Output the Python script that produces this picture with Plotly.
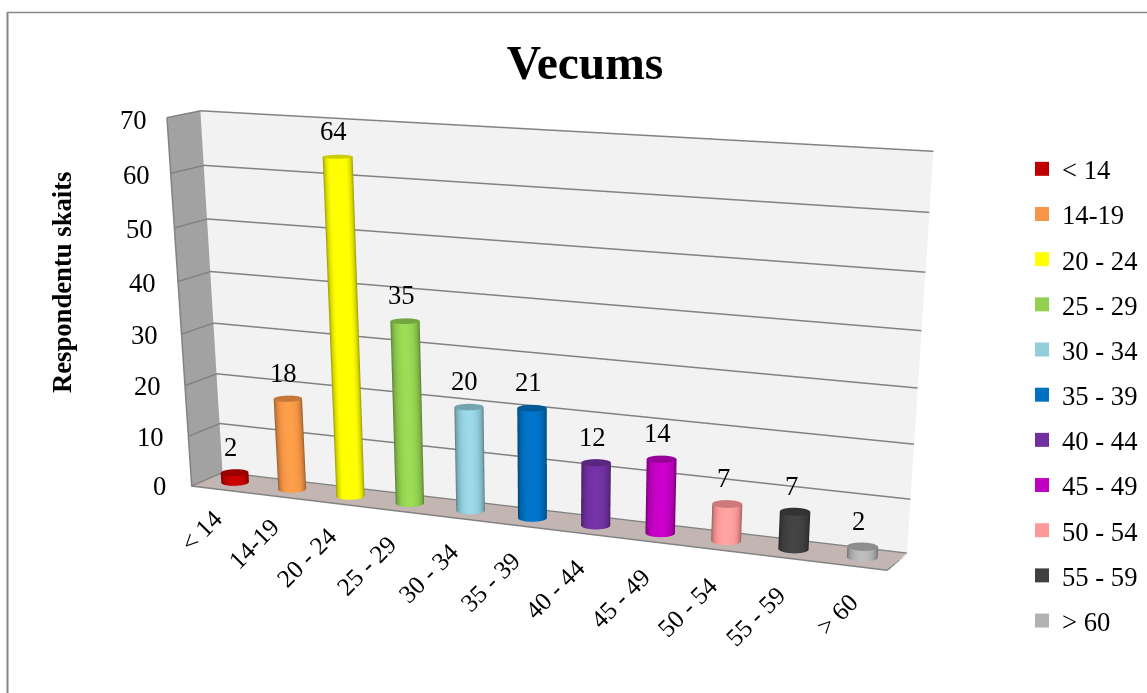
import numpy as np
import plotly.graph_objects as go

categories = ["< 14", "14-19", "20 - 24", "25 - 29", "30 - 34", "35 - 39", "40 - 44", "45 - 49", "50 - 54", "55 - 59", "> 60"]
values = [2, 18, 64, 35, 20, 21, 12, 14, 7, 7, 2]
colors = ["#c00000", "#f79646", "#ffff00", "#92d050", "#92cddc", "#0070c0", "#7030a0", "#c000c0", "#ff9999", "#404040", "#b2b2b2"]
z_ticks = [0, 10, 20, 30, 40, 50, 60, 70]

# Tall, wide canvas: the fixed 3D lens gets narrower as the scene grows, and only
# the top-left part of the page is shown.
FIG_W, FIG_H = 1300, 2015
SCENE_W = 1109
ASPECT = dict(x=2.0, y=0.1669, z=0.9630)
EYE = dict(x=2.6411, y=-5.7554, z=1.2291)
CENTER = dict(x=0.2817, y=-0.4865, z=-1.6488)

# Cylinder radius in category units; the depth radius keeps the section circular.
R_X = 0.21
R_Y = R_X * (ASPECT["x"] / 11) / ASPECT["y"]
ts = np.linspace(0, 2 * np.pi, 61)


def scale_hex(h, k):
    r, g, b = [int(h[i:i + 2], 16) for i in (1, 3, 5)]
    return "rgb(%d,%d,%d)" % (min(r * k, 255), min(g * k, 255), min(b * k, 255))


traces = []

# Grid lines on the two walls, then the floor edges and the front wall edge.
gx, gy, gz = [], [], []
for v in z_ticks:
    gx += [-.49, -.49, 10.5, None]
    gy += [0, .995, .995, None]
    gz += [v, v, v, None]
gx += [-.5, 10.5, 10.5, None, -.49, -.49]
gy += [0, 0, 1, None, 0, 0]
gz += [0, 0, 0, None, 0, 70]
traces.append(go.Scatter3d(x=gx, y=gy, z=gz, mode="lines", line=dict(color="#828282", width=3),
                           showlegend=False, hoverinfo="skip"))

# One shaded cylinder per age group: side wall plus top cap in a single surface.
for i, (v, col) in enumerate(zip(values, colors)):
    mx = (i + .5) / 11 * ASPECT["x"] - ASPECT["x"] / 2
    dirx, diry = EYE["x"] - mx, EYE["y"]
    n = np.hypot(dirx, diry)
    shade = np.clip(np.cos(ts) * dirx / n + np.sin(ts) * diry / n, 0, 1) * 0.88
    X = [i + R_X * np.cos(ts)] * 3 + [i + 0 * ts]
    Y = [.5 + R_Y * np.sin(ts)] * 3 + [.5 + 0 * ts]
    Z = [0 * ts, v + 0 * ts, v + 0 * ts, v + 0 * ts]
    C = [shade, shade, 1 + 0 * ts, 1 + 0 * ts]
    traces.append(go.Surface(
        x=np.array(X), y=np.array(Y), z=np.array(Z), surfacecolor=np.array(C),
        cmin=0, cmax=1, showscale=False,
        colorscale=[[0, scale_hex(col, .5)], [.25, scale_hex(col, .68)], [.5, scale_hex(col, .86)],
                    [.75, col], [.9, scale_hex(col, 1.08)], [.901, scale_hex(col, .8)], [1, scale_hex(col, .8)]],
        lighting=dict(ambient=1, diffuse=0, specular=0, roughness=1, fresnel=0), hoverinfo="skip"))

# Legend entries
for name, col in zip(categories, colors):
    traces.append(go.Scatter3d(x=[None], y=[None], z=[None], mode="markers", name=name, legendgroup=name,
                               showlegend=True, marker=dict(symbol="square", size=14, color=col, line=dict(width=0))))

font = dict(family="Liberation Serif", size=26.67, color="black")
cat_font = dict(font, size=25.3)
ann = []
for v in z_ticks:
    ann.append(dict(x=-.5, y=0, z=v, text=str(v), showarrow=False, xanchor="right", yanchor="middle",
                    xshift=-23 + 6 * v / 70, yshift=-2 * v / 70, font=font))
for i, c in enumerate(categories):
    ann.append(dict(x=i, y=0, z=0, text=c, showarrow=False, xanchor="right", yanchor="top", textangle=-45,
                    xshift=8 + .3 * i + (7 - len(c)), yshift=-13.5 - .7 * i + (7 - len(c)) * .5, font=cat_font))
for i, v in enumerate(values):
    ann.append(dict(x=i, y=.5, z=v, text=str(v), showarrow=False, xanchor="center", yanchor="bottom",
                    xshift=-4, yshift=9, font=font))

fig = go.Figure(traces)
hidden = dict(showticklabels=False, ticks="", title="", showspikes=False, zeroline=False, showgrid=False,
              showline=False, showbackground=True)
fig.update_layout(
    width=FIG_W, height=FIG_H, margin=dict(l=0, r=0, t=0, b=0), paper_bgcolor="white",
    title=dict(text="<b>Vecums</b>", x=585 / FIG_W, xanchor="center", y=1 - 62 / FIG_H, yanchor="middle",
               font=dict(family="Liberation Serif", size=47.5, color="black")),
    scene=dict(domain=dict(x=[0, SCENE_W / FIG_W], y=[0, 1]), aspectmode="manual", aspectratio=ASPECT,
               camera=dict(eye=EYE, center=CENTER, up=dict(x=0, y=0, z=1)),
               xaxis=dict(hidden, range=[-.5, 10.5], backgroundcolor="#a2a2a2"),
               yaxis=dict(hidden, range=[0, 1], backgroundcolor="#f2f2f2"),
               zaxis=dict(hidden, range=[0, 70], backgroundcolor="#c3b6b2"),
               annotations=ann),
    legend=dict(x=1022 / FIG_W, xanchor="left", y=1 - 145 / FIG_H, yanchor="top", font=font, tracegroupgap=7.5,
                bgcolor="rgba(0,0,0,0)"),
    annotations=[dict(x=62 / FIG_W, y=1 - 283 / FIG_H, xref="paper", yref="paper", xanchor="center",
                      yanchor="middle", text="<b>Respondentu skaits</b>", textangle=-90, showarrow=False, font=font)],
    shapes=[dict(type="line", xref="paper", yref="paper", x0=7.5 / FIG_W, x1=7.5 / FIG_W, y0=0, y1=1 - 12 / FIG_H,
                 line=dict(color="#868686", width=2)),
            dict(type="line", xref="paper", yref="paper", x0=7 / FIG_W, x1=1, y0=1 - 12.5 / FIG_H, y1=1 - 12.5 / FIG_H,
                 line=dict(color="#868686", width=1.5))])
fig.write_html("out.html", config=dict(displayModeBar=False),
               post_script="document.documentElement.style.overflow='hidden';document.body.style.overflow='hidden';")
